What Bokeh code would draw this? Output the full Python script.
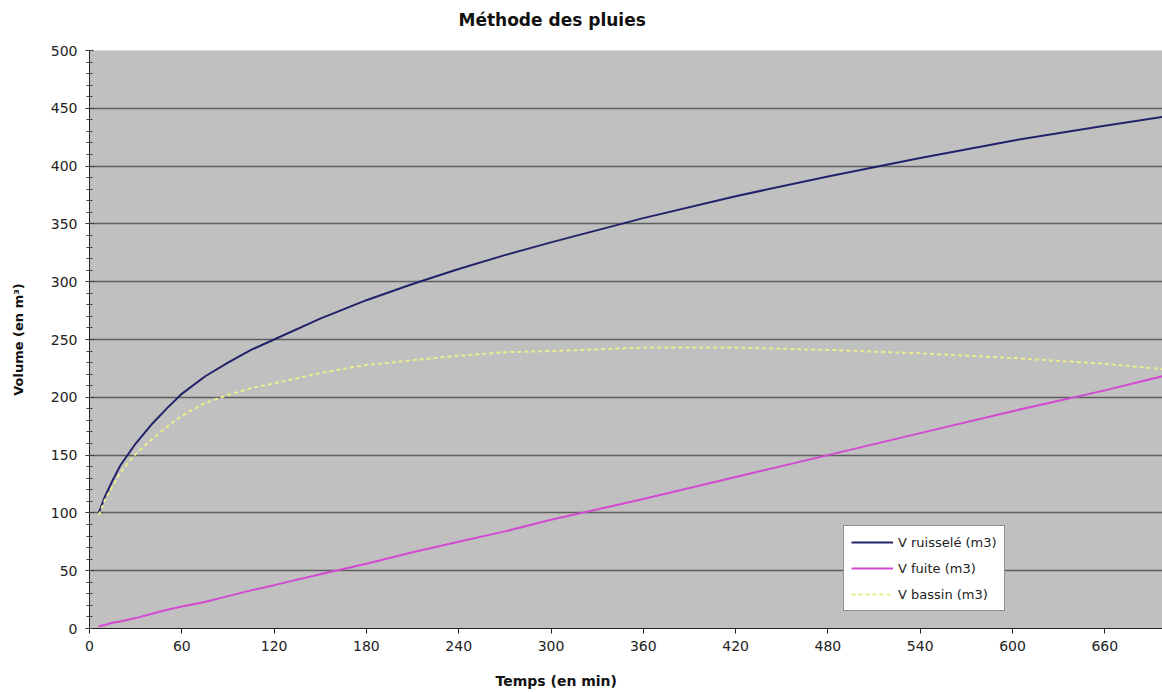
from bokeh.plotting import figure
from bokeh.models import Range1d, FixedTicker, Legend, LegendItem, Title
from bokeh.embed import file_html
from bokeh.resources import INLINE

# Data
temps = [6, 10, 15, 20, 30, 40, 50, 60, 75, 90, 105, 120, 150, 180, 210, 240,
         270, 300, 360, 420, 480, 540, 600, 660, 700]
v_ruissele = [100, 114, 128, 141, 160, 176, 190, 203, 218, 230, 241, 250, 268,
              284, 298, 311, 323, 334, 355, 374, 391, 407, 422, 435, 443]
v_fuite = [2, 3, 5, 6, 9, 12.5, 16, 19, 23, 28, 33, 37.5, 47, 56, 66, 75, 84,
           94, 112, 131, 150, 169, 188, 206, 219]
v_bassin = [98, 111, 123, 135, 151, 163, 174, 184, 195, 202, 208, 212, 221,
            228, 232, 236, 239, 240, 243, 243, 241, 238, 234, 229, 224]

x_ticks = [0, 60, 120, 180, 240, 300, 360, 420, 480, 540, 600, 660]
y_ticks = [0, 50, 100, 150, 200, 250, 300, 350, 400, 450, 500]
y_minor = list(range(0, 501, 10))

FONT = "DejaVu Sans"

p = figure(width=1162, height=692, output_backend="svg", toolbar_location=None,
           x_range=Range1d(0, 697.5), y_range=Range1d(0, 500),
           min_border_left=89, min_border_right=0, min_border_top=50,
           min_border_bottom=64)

p.background_fill_color = "#C0C0C0"
p.border_fill_color = "white"
p.outline_line_color = None

# Title (spacer next to the frame, then the real title further out)
p.add_layout(Title(text=" ", text_font_size="1px", standoff=18), "above")
p.add_layout(Title(text="Méthode des pluies", align="left", offset=369,
                   text_font=FONT, text_font_size="17px",
                   text_font_style="bold", text_color="#111111", standoff=0),
             "above")

# Axes
p.xaxis.ticker = FixedTicker(ticks=x_ticks)
p.yaxis.ticker = FixedTicker(ticks=y_ticks, minor_ticks=y_minor)
for ax in (p.xaxis[0], p.yaxis[0]):
    ax.major_label_text_font = FONT
    ax.major_label_text_font_size = "14px"
    ax.major_label_text_color = "#222222"
    ax.axis_line_color = "#222222"
    ax.major_tick_line_color = "#222222"
    ax.minor_tick_line_color = "#444444"
    ax.axis_label_text_font = FONT
    ax.axis_label_text_font_style = "bold"
    ax.axis_label_text_font_size = "13px"
    ax.axis_label_text_color = "#111111"

p.xaxis.major_tick_out = 5
p.xaxis.major_tick_in = 0
p.xaxis.minor_tick_line_color = None
p.xaxis.major_label_standoff = 7

p.yaxis.major_tick_out = 4
p.yaxis.major_tick_in = 4
p.yaxis.minor_tick_out = 3
p.yaxis.minor_tick_in = 3
p.yaxis.major_label_standoff = 8
p.yaxis.axis_label = "Volume (en m³)"
p.yaxis.axis_label_standoff = 22

# x-axis label (spacer below the axis, then the label)
p.add_layout(Title(text=" ", text_font_size="1px", standoff=14), "below")
p.add_layout(Title(text="Temps (en min)", align="left", offset=406,
                   text_font=FONT, text_font_size="14px",
                   text_font_style="bold", text_color="#111111", standoff=0),
             "below")

# Grid
p.xgrid.grid_line_color = None
p.ygrid.ticker = FixedTicker(ticks=y_ticks)
p.ygrid.grid_line_color = "#5e5e5e"
p.ygrid.grid_line_width = 1.5

# Lines
r1 = p.line(temps, v_ruissele, line_color="#22226a", line_width=2)
r2 = p.line(temps, v_fuite, line_color="#d24ad2", line_width=2)
r3 = p.line(temps, v_bassin, line_color="#ecec8c", line_width=2,
            line_dash="4 3")

legend = Legend(items=[LegendItem(label="V ruisselé (m3)", renderers=[r1]),
                       LegendItem(label="V fuite (m3)", renderers=[r2]),
                       LegendItem(label="V bassin (m3)", renderers=[r3])],
                location=(754, 17))
legend.background_fill_color = "white"
legend.background_fill_alpha = 1.0
legend.border_line_color = "#222222"
legend.border_line_width = 1
legend.label_text_font = FONT
legend.label_text_font_size = "13px"
legend.label_text_color = "#222222"
legend.glyph_width = 42
legend.glyph_height = 18
legend.label_height = 18
legend.label_standoff = 5
legend.spacing = 8
legend.padding = 7
legend.margin = 0
p.add_layout(legend, "center")

open("out.html", "w").write(file_html(p, INLINE))
